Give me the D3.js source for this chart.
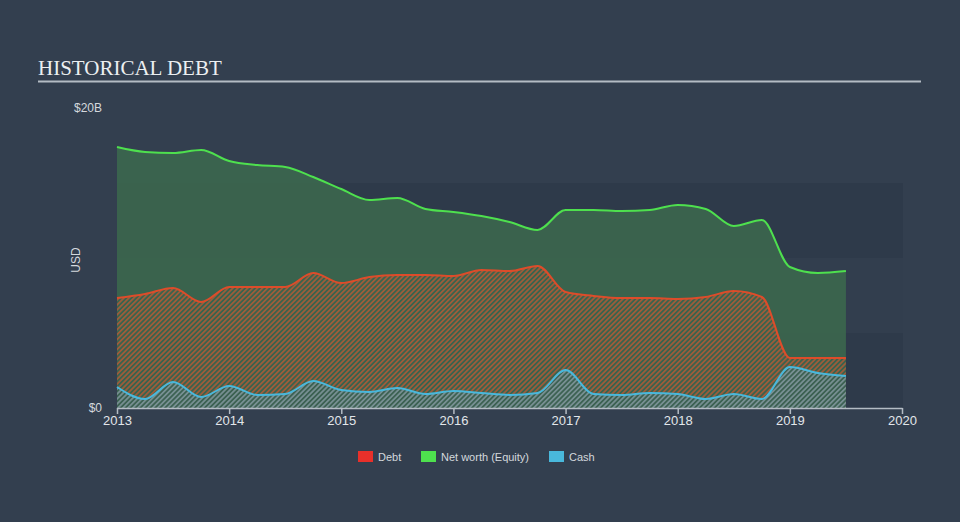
<!DOCTYPE html>
<html><head><meta charset="utf-8">
<script src="https://cdn.jsdelivr.net/npm/d3@7"></script>
<style>html,body{margin:0;padding:0;background:#333f4f;}svg{display:block;}</style>
</head><body>
<script>
const dates = [2013.0,2013.25,2013.5,2013.75,2014.0,2014.25,2014.5,2014.75,2015.0,2015.25,2015.5,2015.75,2016.0,2016.25,2016.5,2016.75,2017.0,2017.25,2017.5,2017.75,2018.0,2018.25,2018.5,2018.75,2019.0,2019.25,2019.5];
const equity = [17.4,17.07,17.0,17.2,16.47,16.2,16.07,15.4,14.6,13.87,14.0,13.27,13.07,12.8,12.4,11.87,13.2,13.2,13.13,13.2,13.53,13.27,12.13,12.53,9.4,9.0,9.13];
const debt = [7.33,7.6,8.0,7.07,8.07,8.07,8.07,9.0,8.33,8.73,8.87,8.87,8.8,9.2,9.13,9.47,7.73,7.47,7.33,7.33,7.27,7.4,7.8,7.4,3.33,3.33,3.33];
const cash = [1.4,0.6,1.73,0.73,1.47,0.87,0.93,1.8,1.2,1.07,1.33,0.93,1.13,1.0,0.87,1.0,2.53,0.93,0.87,1.0,0.93,0.6,0.93,0.6,2.73,2.33,2.13];
const xTicks = [2013,2014,2015,2016,2017,2018,2019,2020];
const yTickLabels = ["$0","$20B"];
const yTickValues = [0,20];
const bandEdges = [0,5,10,15];
const legendItems = ["Debt","Net worth (Equity)","Cash"];
const legendColors = ["#e8302a","#4ee04e","#49b8dc"];

const W=960,H=522;
const svg=d3.select("body").append("svg").attr("width",W).attr("height",H);
svg.append("rect").attr("width",W).attr("height",H).attr("fill","#333f4f");

const x=d3.scaleLinear().domain([2013,2020]).range([117,902]);
const y=d3.scaleLinear().domain([0,20]).range([408,108]);

// bands
const bandFills=["#2e3a4a","#323e4e","#2e3a4a"];
for(let i=0;i<3;i++){
  svg.append("rect").attr("x",x(2013)).attr("width",x(2020)-x(2013)+1)
    .attr("y",y(bandEdges[i+1])).attr("height",y(bandEdges[i])-y(bandEdges[i+1]))
    .attr("fill",bandFills[i]);
}

// title
svg.append("text").attr("x",38).attr("y",75).text("HISTORICAL DEBT")
  .attr("font-family","'Liberation Serif','DejaVu Serif',serif").attr("font-size",21).attr("fill","#eceff1");
svg.append("line").attr("x1",38).attr("x2",921).attr("y1",81.5).attr("y2",81.5).attr("stroke","#b4bcc4").attr("stroke-width",2);

const defs=svg.append("defs");
function hatch(id,bg,bgOp,col,op){
  const p=defs.append("pattern").attr("id",id).attr("patternUnits","userSpaceOnUse")
    .attr("width",3.5).attr("height",3.5).attr("patternTransform","rotate(45)");
  if(bg) p.append("rect").attr("width",3.5).attr("height",3.5).attr("fill",bg).attr("fill-opacity",bgOp);
  p.append("rect").attr("width",1.75).attr("height",3.5).attr("fill",col).attr("fill-opacity",op);
}
hatch("hDebt",null,0,"#c65a34",0.7);
hatch("hCash","#3c6152",1,"#8a9ea6",0.75);

const data=dates.map((d,i)=>({d,e:equity[i],b:debt[i],c:cash[i]}));
const curve=d3.curveMonotoneX;
const area=k=>d3.area().x(d=>x(d.d)).y0(y(0)).y1(d=>y(d[k])).curve(curve);
const line=k=>d3.line().x(d=>x(d.d)).y(d=>y(d[k])).curve(curve);

svg.append("path").datum(data).attr("d",area("e")).attr("fill","#3c6a4e").attr("fill-opacity",0.85);
svg.append("path").datum(data).attr("d",area("b")).attr("fill","url(#hDebt)");
svg.append("path").datum(data).attr("d",area("c")).attr("fill","url(#hCash)");

svg.append("path").datum(data).attr("d",line("e")).attr("fill","none").attr("stroke","#4ee04e").attr("stroke-width",2);
svg.append("path").datum(data).attr("d",line("b")).attr("fill","none").attr("stroke","#dd4c2a").attr("stroke-width",2);
svg.append("path").datum(data).attr("d",line("c")).attr("fill","none").attr("stroke","#49b8dc").attr("stroke-width",2);

// x axis
const xa=svg.append("g").attr("transform","translate(0,408)")
  .call(d3.axisBottom(x).tickValues(xTicks).tickFormat(d3.format("d")).tickSize(6).tickSizeOuter(0));
xa.select(".domain").attr("stroke","#b4bcc4").attr("stroke-width",1.5);
xa.selectAll(".tick line").attr("stroke","#b4bcc4").attr("stroke-width",1.5);
xa.selectAll("text").attr("fill","#e2e6ea").attr("font-size",13).attr("dy","0.6em")
  .attr("font-family","'Liberation Sans',Arial,sans-serif");

// y labels
yTickValues.forEach((v,i)=>{
  svg.append("text").attr("x",102).attr("y",y(v)).attr("dy","0.35em").attr("text-anchor","end")
    .text(yTickLabels[i]).attr("fill","#d4d8dd").attr("font-size",12)
    .attr("font-family","'Liberation Sans',Arial,sans-serif");
});
svg.append("text").attr("transform","translate(80,260) rotate(-90)").attr("text-anchor","middle")
  .text("USD").attr("fill","#d4d8dd").attr("font-size",12).attr("font-family","'Liberation Sans',Arial,sans-serif");

// legend
const lx=[358,421,549];
legendItems.forEach((t,i)=>{
  svg.append("rect").attr("x",lx[i]).attr("y",451).attr("width",15).attr("height",11).attr("fill",legendColors[i]);
  svg.append("text").attr("x",lx[i]+20).attr("y",457).attr("dy","0.35em").text(t)
    .attr("fill","#d4d8dd").attr("font-size",11).attr("font-family","'Liberation Sans',Arial,sans-serif");
});
</script>
</body></html>
